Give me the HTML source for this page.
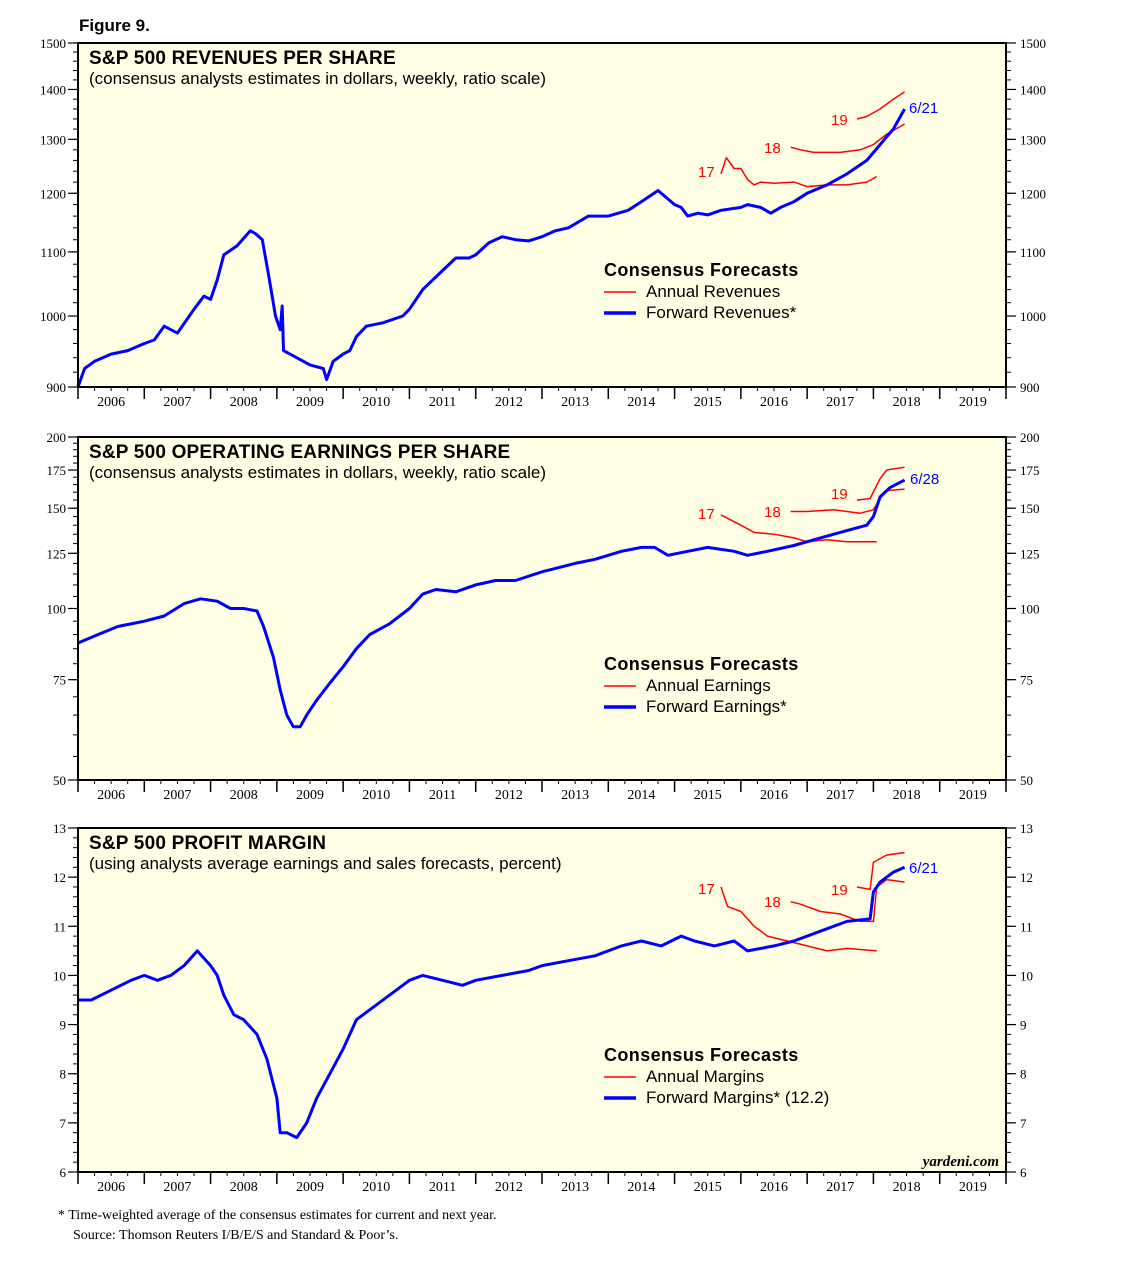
<!DOCTYPE html>
<html><head><meta charset="utf-8"><style>
body{margin:0;background:#fff;}
svg{display:block;font-family:"Liberation Sans",sans-serif;}
</style></head><body>
<svg id="chart" width="1138" height="1266" xmlns="http://www.w3.org/2000/svg">
<text x="79" y="31" font-size="17" font-weight="bold">Figure 9.</text>
<text x="58" y="1219" font-size="14" font-family="Liberation Serif">*  Time-weighted average of the consensus estimates for current and next year.</text>
<text x="73" y="1239" font-size="14" font-family="Liberation Serif">Source: Thomson Reuters I/B/E/S and Standard &amp; Poor’s.</text>
</svg>
<script>
// ---- Panel 1: revenues per share ----
const revFwdX=[2006.0,2006.1,2006.25,2006.5,2006.75,2007.0,2007.15,2007.3,2007.5,2007.75,2007.9,2008.0,2008.1,2008.2,2008.4,2008.6,2008.68,2008.78,2008.88,2008.98,2009.05,2009.08,2009.1,2009.3,2009.5,2009.7,2009.75,2009.85,2010.0,2010.1,2010.2,2010.35,2010.6,2010.9,2011.0,2011.2,2011.5,2011.7,2011.9,2012.0,2012.2,2012.4,2012.6,2012.8,2013.0,2013.2,2013.4,2013.7,2014.0,2014.3,2014.5,2014.75,2014.85,2015.0,2015.1,2015.2,2015.35,2015.5,2015.7,2016.0,2016.1,2016.3,2016.45,2016.6,2016.8,2017.0,2017.3,2017.6,2017.9,2018.1,2018.3,2018.47];
const revFwdY=[900,925,935,945,950,960,965,985,975,1010,1030,1025,1055,1095,1110,1135,1130,1120,1060,1000,980,1015,950,940,930,925,910,935,945,950,970,985,990,1000,1010,1040,1070,1090,1090,1095,1115,1125,1120,1118,1125,1135,1140,1160,1160,1170,1185,1205,1195,1180,1175,1160,1165,1162,1170,1175,1180,1175,1165,1175,1185,1200,1215,1235,1260,1290,1320,1360];
const rev17X=[2015.7,2015.78,2015.9,2016.0,2016.1,2016.2,2016.3,2016.5,2016.8,2017.0,2017.3,2017.6,2017.9,2018.05];
const rev17Y=[1235,1265,1245,1245,1225,1215,1220,1218,1220,1212,1215,1215,1220,1230];
const rev18X=[2016.75,2016.9,2017.1,2017.5,2017.8,2018.0,2018.2,2018.47];
const rev18Y=[1285,1280,1275,1275,1280,1290,1310,1330];
const rev19X=[2017.75,2017.9,2018.1,2018.3,2018.47];
const rev19Y=[1340,1345,1360,1380,1395];
const revTicks=[900,1000,1100,1200,1300,1400,1500];
// ---- Panel 2: operating earnings per share ----
const epsFwdX=[2006.0,2006.3,2006.6,2007.0,2007.3,2007.6,2007.85,2008.1,2008.3,2008.5,2008.7,2008.8,2008.95,2009.05,2009.15,2009.25,2009.35,2009.45,2009.6,2009.8,2010.0,2010.2,2010.4,2010.7,2011.0,2011.2,2011.4,2011.7,2012.0,2012.3,2012.6,2013.0,2013.5,2013.8,2014.2,2014.5,2014.7,2014.9,2015.2,2015.5,2015.9,2016.1,2016.4,2016.8,2017.2,2017.6,2017.9,2018.0,2018.1,2018.25,2018.47];
const epsFwdY=[87,90,93,95,97,102,104,103,100,100,99,93,82,72,65,62,62,65,69,74,79,85,90,94,100,106,108,107,110,112,112,116,120,122,126,128,128,124,126,128,126,124,126,129,133,137,140,145,157,163,168];
const eps17X=[2015.7,2015.8,2016.0,2016.2,2016.5,2016.8,2017.0,2017.3,2017.6,2018.05];
const eps17Y=[146,144,140,136,135,133,131,132,131,131];
const eps18X=[2016.75,2017.0,2017.4,2017.8,2018.0,2018.1,2018.2,2018.47];
const eps18Y=[148,148,149,147,149,156,161,162];
const eps19X=[2017.75,2017.95,2018.1,2018.2,2018.47];
const eps19Y=[155,156,169,175,177];
const epsTicks=[50,75,100,125,150,175,200];
// ---- Panel 3: profit margin ----
const pmFwdX=[2006.0,2006.2,2006.5,2006.8,2007.0,2007.2,2007.4,2007.6,2007.8,2008.0,2008.1,2008.2,2008.35,2008.5,2008.7,2008.85,2009.0,2009.05,2009.15,2009.3,2009.45,2009.6,2009.8,2010.0,2010.2,2010.5,2010.8,2011.0,2011.2,2011.5,2011.8,2012.0,2012.4,2012.8,2013.0,2013.4,2013.8,2014.2,2014.5,2014.8,2015.1,2015.3,2015.6,2015.9,2016.1,2016.5,2016.8,2017.2,2017.6,2017.95,2018.0,2018.1,2018.3,2018.47];
const pmFwdY=[9.5,9.5,9.7,9.9,10.0,9.9,10.0,10.2,10.5,10.2,10.0,9.6,9.2,9.1,8.8,8.3,7.5,6.8,6.8,6.7,7.0,7.5,8.0,8.5,9.1,9.4,9.7,9.9,10.0,9.9,9.8,9.9,10.0,10.1,10.2,10.3,10.4,10.6,10.7,10.6,10.8,10.7,10.6,10.7,10.5,10.6,10.7,10.9,11.1,11.15,11.7,11.9,12.1,12.2];
const pm17X=[2015.7,2015.8,2016.0,2016.2,2016.4,2016.7,2017.0,2017.3,2017.6,2018.05];
const pm17Y=[11.8,11.4,11.3,11.0,10.8,10.7,10.6,10.5,10.55,10.5];
const pm18X=[2016.75,2016.9,2017.2,2017.5,2017.8,2018.0,2018.05,2018.2,2018.47];
const pm18Y=[11.5,11.45,11.3,11.25,11.1,11.1,11.8,11.95,11.9];
const pm19X=[2017.75,2017.95,2018.0,2018.2,2018.47];
const pm19Y=[11.8,11.75,12.3,12.45,12.5];
const pmTicks=[6,7,8,9,10,11,12,13];
const years=[2006,2007,2008,2009,2010,2011,2012,2013,2014,2015,2016,2017,2018,2019];

const NS="http://www.w3.org/2000/svg";
const svg=document.getElementById('chart');
const X0=78,X1=1006;
function xs(t){return X0+(t-2006)/14*(X1-X0);}
function mk(tag,attrs,parent){const e=document.createElementNS(NS,tag);for(const k in attrs)e.setAttribute(k,attrs[k]);(parent||svg).appendChild(e);return e;}

function panel(cfg){
  const g=mk('g',{});
  
  
  const top=cfg.top,bot=cfg.bot;
  const ys=cfg.log?(v=>bot-Math.log(v/cfg.min)/Math.log(cfg.max/cfg.min)*(bot-top)):(v=>bot-(v-cfg.min)/(cfg.max-cfg.min)*(bot-top));
  const bg=mk('rect',{x:X0,y:top,width:X1-X0,height:bot-top,fill:'#ffffe6'},g);
  
  
  for(let i=0;i<cfg.minor.length;i++){const y=ys(cfg.minor[i]);
    mk('line',{x1:X0-5,x2:X0,y1:y,y2:y,stroke:'#000','stroke-width':1},g);
    mk('line',{x1:X1,x2:X1+5,y1:y,y2:y,stroke:'#000','stroke-width':1},g);}
  cfg.ticks.forEach(v=>{const y=ys(v);
    mk('line',{x1:X0-10,x2:X0,y1:y,y2:y,stroke:'#000','stroke-width':1.2},g);
    mk('line',{x1:X1,x2:X1+10,y1:y,y2:y,stroke:'#000','stroke-width':1.2},g);
    const l=mk('text',{x:X0-12,y:y+5,'font-size':13,'text-anchor':'end','font-family':'Liberation Serif'},g);l.textContent=v;
    
    
    const r=mk('text',{x:X1+14,y:y+5,'font-size':13,'font-family':'Liberation Serif'},g);r.textContent=v;
    
    
  });
  for(let q=0;q<=56;q++){const x=xs(2006+q/4);const len=q%4==0?12:4;
    mk('line',{x1:x,x2:x,y1:bot,y2:bot+len,stroke:'#000','stroke-width':q%4==0?1.5:1},g);}
  years.forEach(yv=>{const t=mk('text',{x:xs(yv+0.5),y:bot+19,'font-size':14,'text-anchor':'middle','font-family':'Liberation Serif'},g);t.textContent=yv;
    
    });
  function line(xa,ya,col,w,name){let d='';for(let i=0;i<xa.length;i++)d+=(i?'L':'M')+xs(xa[i]).toFixed(1)+','+ys(ya[i]).toFixed(1);
    const p=mk('path',{d:d,fill:'none',stroke:col,'stroke-width':w,'stroke-linejoin':'round'},g);
    
    }
  line(cfg.s17[0],cfg.s17[1],'#ff0000',1.5,'annual-2017-line');
  line(cfg.s18[0],cfg.s18[1],'#ff0000',1.5,'annual-2018-line');
  line(cfg.s19[0],cfg.s19[1],'#ff0000',1.5,'annual-2019-line');
  line(cfg.fwd[0],cfg.fwd[1],'#0000ff',3,'forward-line');
  mk('rect',{x:X0,y:top,width:X1-X0,height:bot-top,fill:'none',stroke:'#000','stroke-width':2},g);
  function txt(x,y,s,opt,name){const t=mk('text',Object.assign({x:x,y:y},opt),g);t.textContent=s;
    
    return t;}
  txt(89,top+21,cfg.title,{'font-size':19,'font-weight':'bold','letter-spacing':0.2},'panel-title');
  txt(89,top+41,cfg.sub,{'font-size':17},'panel-subtitle');
  cfg.lab.forEach(l=>txt(l[0],l[1],l[2],{'font-size':15,fill:l[3]},'series-label'));
  const ly=cfg.legY;
  txt(604,ly,'Consensus Forecasts',{'font-size':18,'font-weight':'bold','letter-spacing':0.4},'legend-title');
  mk('line',{x1:604,x2:636,y1:ly+16,y2:ly+16,stroke:'#ff0000','stroke-width':1.5},g);
  txt(646,ly+21,cfg.leg1,{'font-size':17},'legend-entry-annual');
  mk('line',{x1:604,x2:636,y1:ly+37,y2:ly+37,stroke:'#0000ff','stroke-width':3.5},g);
  txt(646,ly+42,cfg.leg2,{'font-size':17},'legend-entry-forward');
}
function range(a,b,s){const r=[];for(let v=a;v<=b+1e-9;v+=s)r.push(+v.toFixed(3));return r;}
panel({name:'revenues-panel',top:43,bot:387,log:true,min:900,max:1500,ticks:revTicks,minor:range(900,1500,20),
 fwd:[revFwdX,revFwdY],s17:[rev17X,rev17Y],s18:[rev18X,rev18Y],s19:[rev19X,rev19Y],
 title:'S&P 500 REVENUES PER SHARE',sub:'(consensus analysts estimates in dollars, weekly, ratio scale)',
 lab:[[698,177,'17','#ff0000'],[764,153,'18','#ff0000'],[831,125,'19','#ff0000'],[909,113,'6/21','#0000ff']],
 legY:276,leg1:'Annual Revenues',leg2:'Forward Revenues*'});
panel({name:'earnings-panel',top:437,bot:780,log:true,min:50,max:200,ticks:epsTicks,minor:range(50,200,5),
 fwd:[epsFwdX,epsFwdY],s17:[eps17X,eps17Y],s18:[eps18X,eps18Y],s19:[eps19X,eps19Y],
 title:'S&P 500 OPERATING EARNINGS PER SHARE',sub:'(consensus analysts estimates in dollars, weekly, ratio scale)',
 lab:[[698,519,'17','#ff0000'],[764,517,'18','#ff0000'],[831,499,'19','#ff0000'],[910,484,'6/28','#0000ff']],
 legY:670,leg1:'Annual Earnings',leg2:'Forward Earnings*'});
panel({name:'margin-panel',top:828,bot:1172,log:false,min:6,max:13,ticks:pmTicks,minor:range(6,13,0.2),
 fwd:[pmFwdX,pmFwdY],s17:[pm17X,pm17Y],s18:[pm18X,pm18Y],s19:[pm19X,pm19Y],
 title:'S&P 500 PROFIT MARGIN',sub:'(using analysts average earnings and sales forecasts, percent)',
 lab:[[698,894,'17','#ff0000'],[764,907,'18','#ff0000'],[831,895,'19','#ff0000'],[909,873,'6/21','#0000ff']],
 legY:1061,leg1:'Annual Margins',leg2:'Forward Margins* (12.2)'});
const yd=mk('text',{x:999,y:1166,'font-size':15,'font-style':'italic','font-weight':'bold','text-anchor':'end','font-family':'Liberation Serif'});
yd.textContent='yardeni.com';


</script>
</body></html>
